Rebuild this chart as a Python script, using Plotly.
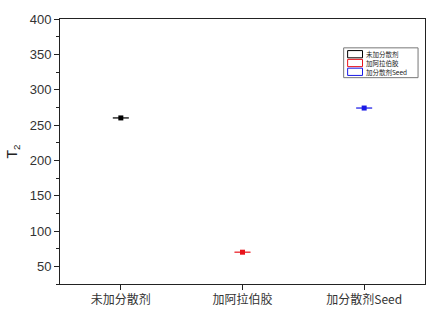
import plotly.graph_objects as go

categories = ["未加分散剂", "加阿拉伯胶", "加分散剂Seed"]
t2_values = [260, 70, 274]
t2_errors = [0.4, 0.4, 0.4]
colors = ["#000000", "#e8141b", "#1a1ae6"]

W, H = 441, 319
ML, MR, MT, MB = 57, 16, 13, 35
PW, PH = W - ML - MR, H - MT - MB

def px_x(p):
    return (p - ML) / PW

def px_y(p):
    return (H - MB - p) / PH

fig = go.Figure()
for i, (v, e, col) in enumerate(zip(t2_values, t2_errors, colors)):
    fig.add_trace(go.Scatter(
        x=[i], y=[v], mode="markers",
        marker=dict(symbol="square", size=5, color=col),
        error_y=dict(type="data", array=[e], color=col, thickness=0.7, width=8),
        showlegend=False,
    ))

shapes = []
annotations = []
row_h = 9.0
row_top0 = 44.5
# legend box
shapes.append(dict(type="rect", xref="paper", yref="paper",
                   x0=px_x(343), x1=px_x(418), y0=px_y(row_top0 + 3 * row_h + 1.5), y1=px_y(42.5),
                   line=dict(color="#777", width=1), fillcolor="white"))
for k, (name, col) in enumerate(zip(categories, colors)):
    yt = row_top0 + k * row_h
    shapes.append(dict(type="rect", xref="paper", yref="paper",
                       x0=px_x(347), x1=px_x(362), y0=px_y(yt + row_h - 0.8), y1=px_y(yt + 0.8),
                       line=dict(color=col, width=1)))
    annotations.append(dict(xref="paper", yref="paper", x=px_x(364), y=px_y(yt + row_h / 2),
                            xanchor="left", yanchor="middle", showarrow=False,
                            text=name, font=dict(family="Noto Sans CJK SC", size=6.5, color="#222")))

fig.update_layout(
    width=W, height=H,
    margin=dict(l=ML, r=MR, t=MT, b=MB),
    paper_bgcolor="white", plot_bgcolor="white",
    font=dict(family="Liberation Sans, Arial, Noto Sans CJK SC", size=12, color="#222"),
    showlegend=False,
    shapes=shapes, annotations=annotations,
    xaxis=dict(
        range=[-0.5, 2.5], tickmode="array", tickvals=[0, 1, 2], ticktext=categories,
        ticks="outside", ticklen=5, tickcolor="#222", showline=True, linecolor="#222",
        linewidth=1, mirror=True, showgrid=False, zeroline=False,
        tickfont=dict(family="Noto Sans CJK SC, Liberation Sans", size=12, color="#333"),
    ),
    yaxis=dict(
        range=[25, 400], tickvals=[50, 100, 150, 200, 250, 300, 350, 400],
        ticks="outside", ticklen=5, tickcolor="#222", showline=True, linecolor="#222",
        linewidth=1, mirror=True, showgrid=False, zeroline=False,
        tickfont=dict(size=13, color="#333"),
        minor=dict(ticks="outside", ticklen=3, dtick=25, tick0=0, tickcolor="#222"),
        title=dict(text="T<sub>2</sub>", standoff=8, font=dict(size=14)),
    ),
)

fig.write_html("out.html")
